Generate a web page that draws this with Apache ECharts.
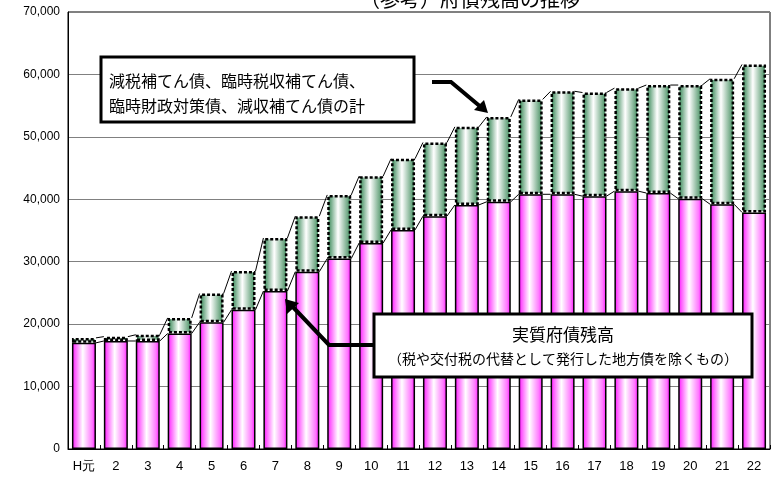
<!DOCTYPE html>
<html><head><meta charset="utf-8">
<script src="https://cdn.jsdelivr.net/npm/echarts@6/dist/echarts.min.js"></script>
<style>html,body{margin:0;padding:0;background:#fff}#c{width:772px;height:483px}</style>
</head><body><div id="c"></div>
<script>
var categories = ['H元','2','3','4','5','6','7','8','9','10','11','12','13','14','15','16','17','18','19','20','21','22'];
var realDebt = [17000,17300,17300,18500,20300,22300,25300,28400,30500,33000,35100,37300,39100,39600,40800,40800,40500,41300,41000,40100,39200,37900];
var specialDebt = [800,700,1000,2500,4600,6200,8500,8900,10200,10700,11400,11800,12500,13600,15200,16500,16600,16500,17300,18200,20100,23700];
var yTicks = [0,10000,20000,30000,40000,50000,60000,70000];

var totals = realDebt.map(function(v,i){return v+specialDebt[i];});
var linkData = [];
for (var i=0;i<categories.length-1;i++){
  linkData.push([i, realDebt[i], realDebt[i+1], totals[i], totals[i+1]]);
}
var numFont = "'Liberation Sans Narrow','Arial Narrow','Liberation Sans',sans-serif";
var jpFont = "'Noto Sans CJK JP',sans-serif";
var chart = echarts.init(document.getElementById('c'));
var BW = 24;
chart.setOption({
  animation:false,
  grid:{left:68,top:12,right:2,bottom:34,show:true,borderColor:'#000',borderWidth:1},
  xAxis:{type:'category',data:categories,
    axisLine:{lineStyle:{color:'#000',width:1}},
    axisTick:{show:true,inside:true,length:4,lineStyle:{color:'#000'}},
    axisLabel:{color:'#000',fontFamily:numFont,fontSize:13,margin:11}},
  yAxis:{type:'value',min:0,max:70000,interval:10000,
    axisLine:{show:true,lineStyle:{color:'#000'}},
    axisTick:{show:false},
    splitLine:{lineStyle:{color:'#808080',width:1}},
    axisLabel:{color:'#000',fontFamily:numFont,fontSize:12,margin:8,
      formatter:function(v){return yTicks.indexOf(v)>=0?echarts.format.addCommas(v):'';}}},
  series:[
    {type:'bar',stack:'a',data:realDebt,barWidth:BW,
     itemStyle:{borderColor:'#000',borderWidth:1.5,
       color:new echarts.graphic.LinearGradient(0,0,1,0,[{offset:0,color:'#ff00ff'},{offset:0.12,color:'#ff55ff'},{offset:0.45,color:'#ffffff'},{offset:0.85,color:'#ff77ff'},{offset:1,color:'#ff00ff'}])}},
    {type:'bar',stack:'a',data:specialDebt,barWidth:BW,
     itemStyle:{borderColor:'#000',borderWidth:2.5,borderType:[3,2],
       color:new echarts.graphic.LinearGradient(0,0,1,0,[{offset:0,color:'#2f7f50'},{offset:0.12,color:'#5f9f78'},{offset:0.45,color:'#ffffff'},{offset:0.85,color:'#6fa884'},{offset:1,color:'#2f7f50'}])}},
    {type:'custom',data:linkData,z:5,
     renderItem:function(params,api){
       var i=api.value(0);
       var a=api.coord([i,api.value(1)]), b=api.coord([i+1,api.value(2)]);
       var c=api.coord([i,api.value(3)]), d=api.coord([i+1,api.value(4)]);
       var h=BW/2;
       return {type:'group',children:[
         {type:'line',shape:{x1:a[0]+h,y1:a[1],x2:b[0]-h,y2:b[1]},style:{stroke:'#000',lineWidth:1}},
         {type:'line',shape:{x1:c[0]+h,y1:c[1],x2:d[0]-h,y2:d[1]},style:{stroke:'#000',lineWidth:1}}
       ]};
     }}
  ],
  graphic:[
    {type:'text',left:360,top:-11,z:10,style:{text:'（参考）府債残高の推移',fontFamily:jpFont,fontSize:20,fill:'#000'}},
    {type:'rect',shape:{x:101,y:57,width:313,height:65},z:10,style:{fill:'#fff',stroke:'#000',lineWidth:3}},
    {type:'text',x:109,y:68,z:11,style:{text:'減税補てん債、臨時税収補てん債、\n臨時財政対策債、減収補てん債の計',fontFamily:jpFont,fontSize:16,lineHeight:25,fill:'#000'}},
    {type:'polyline',z:10,shape:{points:[[432,82],[451,82],[482,108]]},style:{stroke:'#000',lineWidth:4,fill:null}},
    {type:'polygon',z:10,shape:{points:[[488,113],[474,110],[484,100]]},style:{fill:'#000'}},
    {type:'rect',shape:{x:374,y:314,width:378,height:63},z:10,style:{fill:'#fff',stroke:'#000',lineWidth:3}},
    {type:'text',x:563,y:326,z:11,style:{text:'実質府債残高',fontFamily:jpFont,fontSize:17,fill:'#000',align:'center'}},
    {type:'text',x:563,y:352,z:11,style:{text:'（税や交付税の代替として発行した地方債を除くもの）',fontFamily:jpFont,fontSize:14,fill:'#000',align:'center'}},
    {type:'polyline',z:10,shape:{points:[[374,345],[329,345],[291,305]]},style:{stroke:'#000',lineWidth:4,fill:null}},
    {type:'polygon',z:10,shape:{points:[[285,299],[287,314],[299,303]]},style:{fill:'#000'}}
  ]
});
</script></body></html>
